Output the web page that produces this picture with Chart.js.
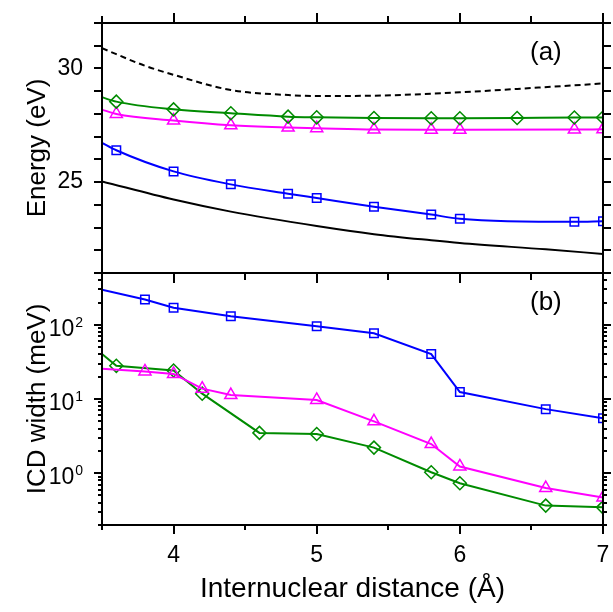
<!DOCTYPE html>
<html>
<head>
<meta charset="utf-8">
<script src="https://cdn.jsdelivr.net/npm/chart.js@4.4.0/dist/chart.umd.min.js"></script>
<style>
  html, body { margin: 0; padding: 0; background: #fff; }
  #wrap { position: relative; width: 613px; height: 612px; }
  canvas { position: absolute; left: 0; top: 0; }
</style>
</head>
<body>
<div id="wrap">
  <canvas id="energyChart" width="613" height="612"></canvas>
  <canvas id="widthChart" width="613" height="612"></canvas>
</div>
<script>
// distance axis (Å)
const xMajorTicks = [4, 5, 6, 7];
const xMinorTicks = [3.5, 4.5, 5.5, 6.5];

// (a) energies (eV)
const energyTickLabels = [25, 30];
const energyTicks = [21, 22, 23, 24, 25, 26, 27, 28, 29, 30, 31, 32];

const dashedX = [3.5, 3.8, 4.0, 4.4, 4.8, 5.0, 5.4, 5.8, 6.0, 6.4, 7.0];
const dashedE = [30.89, 30.12, 29.72, 29.05, 28.83, 28.79, 28.80, 28.89, 28.95, 29.10, 29.34];

const solidX = [3.5, 4.0, 4.4, 5.0, 5.4, 5.8, 6.0, 6.6, 7.0];
const solidE = [25.03, 24.23, 23.70, 23.07, 22.71, 22.44, 22.32, 22.04, 21.84];

const greenEX = [3.5, 3.6, 4.0, 4.4, 4.8, 5.0, 5.4, 5.8, 6.0, 6.4, 6.8, 7.0];
const greenE = [28.73, 28.54, 28.20, 28.03, 27.88, 27.85, 27.82, 27.81, 27.81, 27.82, 27.84, 27.84];

const magentaEX = [3.5, 3.6, 4.0, 4.4, 4.8, 5.0, 5.4, 5.8, 6.0, 6.8, 7.0];
const magentaE = [28.19, 28.0, 27.71, 27.50, 27.40, 27.37, 27.31, 27.30, 27.30, 27.31, 27.32];

const blueEX = [3.5, 3.6, 4.0, 4.4, 4.8, 5.0, 5.4, 5.8, 6.0, 6.8, 7.0];
const blueE = [26.73, 26.40, 25.47, 24.90, 24.49, 24.30, 23.92, 23.57, 23.39, 23.25, 23.28];

// (b) ICD widths (meV), log scale
const widthDecades = [0, 1, 2];
const widthMinorTicks = [0.2, 0.3, 0.4, 0.5, 0.6, 0.7, 0.8, 0.9,
  2, 3, 4, 5, 6, 7, 8, 9, 20, 30, 40, 50, 60, 70, 80, 90, 200, 300, 400, 500];

const blueWX = [3.5, 3.8, 4.0, 4.4, 5.0, 5.4, 5.8, 6.0, 6.6, 7.0];
const blueW = [297, 220, 170, 131, 95.7, 76.9, 40.4, 12.4, 7.3, 5.5];

const magentaWX = [3.5, 3.8, 4.0, 4.2, 4.4, 5.0, 5.4, 5.8, 6.0, 6.6, 7.0];
const magentaW = [25.5, 23.5, 21.8, 13.8, 11.3, 9.7, 5.0, 2.47, 1.23, 0.63, 0.47];

const greenWX = [3.5, 3.6, 4.0, 4.2, 4.6, 5.0, 5.4, 5.8, 6.0, 6.6, 7.0];
const greenW = [40.4, 28.0, 24.2, 11.8, 3.49, 3.38, 2.21, 1.03, 0.73, 0.365, 0.346];

const BLUE = '#0000ff', MAGENTA = '#ff00ff', GREEN = '#008b00';
const FONT = '"Liberation Sans", Arial, Helvetica, sans-serif';

Chart.defaults.font.family = FONT;
Chart.defaults.color = '#000';

function series(xs, ys, color, style, radius, extra) {
    return Object.assign({
        data: xs.map((x, i) => ({ x: x, y: ys[i] })),
        borderColor: color,
        borderWidth: 2,
        pointStyle: style,
        pointRadius: c => (c.raw && c.raw.x <= 3.5) ? 0 : radius,
        pointBorderColor: color,
        pointBackgroundColor: 'transparent',
        pointBorderWidth: 1.5
    }, extra || {});
}

// frame, mirrored ticks, panel letter and 10^n labels
const panelFrame = {
    id: 'panelFrame',
    afterDraw(chart, args, o) {
        const { ctx, chartArea: a } = chart;
        const xs = chart.scales.x, ys = chart.scales.y;
        ctx.save();
        ctx.strokeStyle = '#000';
        ctx.lineWidth = 2;
        ctx.beginPath();
        o.yTicks.forEach(t => {
            const y = Math.round(ys.getPixelForValue(t.v));
            ctx.moveTo(a.left - t.len, y); ctx.lineTo(a.left, y);
            ctx.moveTo(a.right, y); ctx.lineTo(a.right + t.len, y);
        });
        o.xTicks.forEach(t => {
            const x = Math.round(xs.getPixelForValue(t.v));
            if (o.top) { ctx.moveTo(x, a.top - t.len); ctx.lineTo(x, a.top); }
            if (o.bottom) { ctx.moveTo(x, a.bottom); ctx.lineTo(x, a.bottom + t.len); }
        });
        ctx.stroke();
        ctx.strokeRect(a.left, a.top, a.right - a.left, a.bottom - a.top);

        ctx.fillStyle = '#000';
        ctx.font = '26px ' + FONT;
        ctx.textAlign = 'left';
        ctx.textBaseline = 'alphabetic';
        ctx.fillText(o.letter, a.right - 73, a.top + 37);

        if (o.powers) {
            const right = a.left - 19;
            o.powers.forEach(p => {
                const y = ys.getPixelForValue(Math.pow(10, p));
                ctx.font = '14px ' + FONT;
                ctx.textAlign = 'right';
                const ew = ctx.measureText(String(p)).width;
                ctx.fillText(String(p), right, y + 2);
                ctx.font = '23px ' + FONT;
                ctx.fillText('10', right - ew - 1, y + 11);
            });
        }
        ctx.restore();
    }
};

const xTickList = (majorLen, minorLen) =>
    xMajorTicks.map(v => ({ v: v, len: majorLen })).concat(xMinorTicks.map(v => ({ v: v, len: minorLen })));

new Chart(document.getElementById('energyChart'), {
    type: 'line',
    data: {
        datasets: [
            series(dashedX, dashedE, '#000', false, 0, { borderDash: [6, 4], cubicInterpolationMode: 'monotone' }),
            series(solidX, solidE, '#000', false, 0, { cubicInterpolationMode: 'monotone' }),
            series(greenEX, greenE, GREEN, 'rectRot', 6.5, { cubicInterpolationMode: 'monotone' }),
            series(magentaEX, magentaE, MAGENTA, 'triangle', 7, { cubicInterpolationMode: 'monotone' }),
            series(blueEX, blueE, BLUE, 'rect', 6, { cubicInterpolationMode: 'monotone' })
        ]
    },
    options: {
        responsive: false,
        animation: false,
        layout: { padding: { left: 0, right: 10, top: 23, bottom: 339 } },
        plugins: {
            legend: { display: false },
            tooltip: { enabled: false },
            panelFrame: {
                letter: '(a)',
                top: true,
                bottom: true,
                yTicks: energyTicks.map(v => ({ v: v, len: 8 })),
                xTicks: xTickList(10, 7)
            }
        },
        scales: {
            x: { type: 'linear', min: 3.5, max: 7, display: false },
            y: {
                type: 'linear', min: 21, max: 32,
                afterFit: s => { s.width = 102; },
                afterBuildTicks: s => { s.ticks = energyTickLabels.map(v => ({ value: v })); },
                grid: { display: false, drawTicks: true, tickLength: 19 },
                border: { display: false },
                ticks: { padding: 0, font: { size: 23 } },
                title: { display: true, text: 'Energy (eV)', font: { size: 26 }, padding: { top: 22, bottom: 0 } }
            }
        }
    },
    plugins: [panelFrame]
});

new Chart(document.getElementById('widthChart'), {
    type: 'line',
    data: {
        datasets: [
            series(blueWX, blueW, BLUE, 'rect', 6),
            series(magentaWX, magentaW, MAGENTA, 'triangle', 7),
            series(greenWX, greenW, GREEN, 'rectRot', 6.5)
        ]
    },
    options: {
        responsive: false,
        animation: false,
        layout: { padding: { left: 0, right: 10, top: 273, bottom: 0 } },
        plugins: {
            legend: { display: false },
            tooltip: { enabled: false },
            panelFrame: {
                letter: '(b)',
                top: false,
                bottom: true,
                powers: widthDecades,
                yTicks: widthDecades.map(p => ({ v: Math.pow(10, p), len: 8 }))
                    .concat(widthMinorTicks.map(v => ({ v: v, len: 4 }))),
                xTicks: xTickList(9, 5)
            }
        },
        scales: {
            x: {
                type: 'linear', min: 3.5, max: 7,
                afterFit: s => { s.height = 87; },
                afterBuildTicks: s => { s.ticks = xMajorTicks.map(v => ({ value: v })); },
                grid: { display: false, drawTicks: true, tickLength: 17 },
                border: { display: false },
                ticks: { padding: 0, font: { size: 23 }, maxRotation: 0, autoSkip: false },
                title: { display: true, text: 'Internuclear distance (Å)', font: { size: 28 }, padding: { top: 0, bottom: 6 } }
            },
            y: {
                type: 'logarithmic', min: 0.2, max: 500,
                afterFit: s => { s.width = 102; },
                afterBuildTicks: s => { s.ticks = widthDecades.map(p => ({ value: Math.pow(10, p) })); },
                grid: { display: false, drawTicks: false },
                border: { display: false },
                ticks: { display: false },
                title: { display: true, text: 'ICD width (meV)', font: { size: 26 }, padding: { top: 22, bottom: 0 } }
            }
        }
    },
    plugins: [panelFrame]
});
</script>
</body>
</html>
